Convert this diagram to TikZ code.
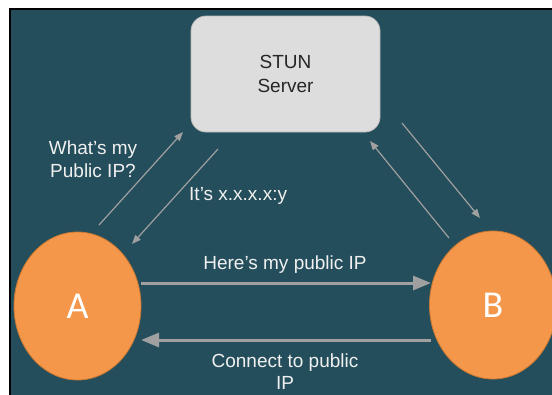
\documentclass[tikz,border=0pt]{standalone}
\usepackage{fontspec}
\setmainfont{Liberation Sans}
\newfontfamily\peerfont{Carlito}
\usetikzlibrary{shapes.geometric,arrows.meta}
\definecolor{bg}{RGB}{36,78,91}
\definecolor{boxfill}{RGB}{221,221,221}
\definecolor{boxline}{RGB}{185,185,185}
\definecolor{peer}{RGB}{245,151,74}
\definecolor{peerline}{RGB}{200,120,50}
\definecolor{arr}{RGB}{160,160,160}
\definecolor{lbl}{RGB}{240,240,240}
\tikzset{
  stunbox/.style={draw=boxline, line width=0.8pt, fill=boxfill, rounded corners=15pt, minimum width=189pt, minimum height=116pt, inner sep=0pt},
  peernode/.style={ellipse, draw=peerline, line width=0.8pt, fill=peer, minimum width=127pt, minimum height=148pt, inner sep=0pt, text=white, font=\peerfont\fontsize{38}{38}\selectfont},
  lab/.style={text=lbl, font=\fontsize{19}{23}\selectfont, align=center, inner sep=0pt},
  thinarrow/.style={draw=arr, line width=1.2pt, -{Triangle[length=9pt,width=7pt]}},
  thickarrow/.style={draw=arr, line width=3pt, -{Triangle[length=18pt,width=14pt]}}
}
\begin{document}
\begin{tikzpicture}[x=1pt,y=-1pt]
\useasboundingbox (0,0) rectangle (552,394);
\clip (0,0) rectangle (552,394);
\fill[white] (0,0) rectangle (552,394);
\fill[bg] (10,9) rectangle (560,400);
\draw[black, line width=1.5pt] (10,400) -- (10,9) -- (560,9);

\node[stunbox, align=center, font=\fontsize{19}{24}\selectfont, text=black!85] (stun) at (285.5,74) {STUN\\Server};
\node[peernode] (A) at (77.5,306) {A};
\node[peernode] (B) at (493,305) {B};

% diagonal arrows left
\coordinate (a1s) at (99,225);
\coordinate (a1e) at (183,132);
\coordinate (a2s) at (218,149);
\coordinate (a2e) at (132,244);
\draw[thinarrow] (a1s) -- (a1e);
\draw[thinarrow] (a2s) -- (a2e);
% diagonal arrows right
\coordinate (b1s) at (449,238);
\coordinate (b1e) at (370,141);
\coordinate (b2s) at (402,123);
\coordinate (b2e) at (480,218);
\draw[thinarrow] (b1s) -- (b1e);
\draw[thinarrow] (b2s) -- (b2e);
% horizontal arrows
\coordinate (h1s) at (141,283);
\coordinate (h1e) at (431,283);
\coordinate (h2s) at (431,340);
\coordinate (h2e) at (141,340);
\draw[thickarrow] (h1s) -- (h1e);
\draw[thickarrow] (h2s) -- (h2e);

\node[lab] (q) at (93,159) {What’s my\\Public IP?};
\node[lab, anchor=west] (r) at (189,196) {It’s x.x.x.x:y};
\node[lab] (h) at (285,265) {Here’s my public IP};
\node[lab, font=\fontsize{19}{22}\selectfont] (c) at (285,372) {Connect to public\\IP};
\end{tikzpicture}
\end{document}
